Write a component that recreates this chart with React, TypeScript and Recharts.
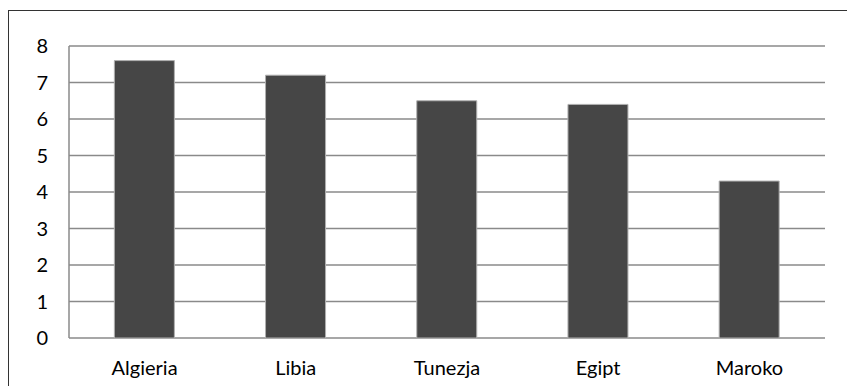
import React from 'react';
import { BarChart, Bar, XAxis, YAxis, CartesianGrid } from 'recharts';

const countries = ['Algieria', 'Libia', 'Tunezja', 'Egipt', 'Maroko'];
const values = [7.6, 7.2, 6.5, 6.4, 4.3];
const yTicks = [0, 1, 2, 3, 4, 5, 6, 7, 8];

const data = countries.map((name, i) => ({ name, value: values[i] }));

const tickStyle = { fill: '#000', fontSize: 20, fontFamily: 'Lato, sans-serif' };

const App: React.FC = () => {
  return (
    <div style={{ position: 'absolute', left: 0, top: 0, width: 847, height: 386, background: '#fff', overflow: 'hidden' }}>
      {/* frame around the chart area */}
      <div
        style={{
          position: 'absolute',
          left: 8,
          top: 10,
          width: 860,
          height: 400,
          borderLeft: '1.5px solid #333',
          borderTop: '1.5px solid #333',
        }}
      />
      <div style={{ position: 'absolute', left: 0, top: 0 }}>
        <BarChart
          width={847}
          height={386}
          data={data}
          margin={{ top: 46, right: 22, bottom: 0, left: 0 }}
          barCategoryGap="30%"
        >
          <CartesianGrid vertical={false} stroke="#8a8a8a" strokeWidth={1.5} />
          <XAxis
            dataKey="name"
            height={48}
            axisLine={false}
            tickLine={false}
            tickSize={0}
            tickMargin={23}
            tick={tickStyle}
          />
          <YAxis
            domain={[0, 8]}
            ticks={yTicks}
            width={69}
            axisLine={{ stroke: '#8a8a8a', strokeWidth: 1.5 }}
            tickLine={false}
            tickSize={0}
            tickMargin={21}
            tick={tickStyle}
          />
          <Bar dataKey="value" fill="#464646" stroke="#b0b0b0" strokeWidth={1} isAnimationActive={false} />
        </BarChart>
      </div>
    </div>
  );
};

export default App;
